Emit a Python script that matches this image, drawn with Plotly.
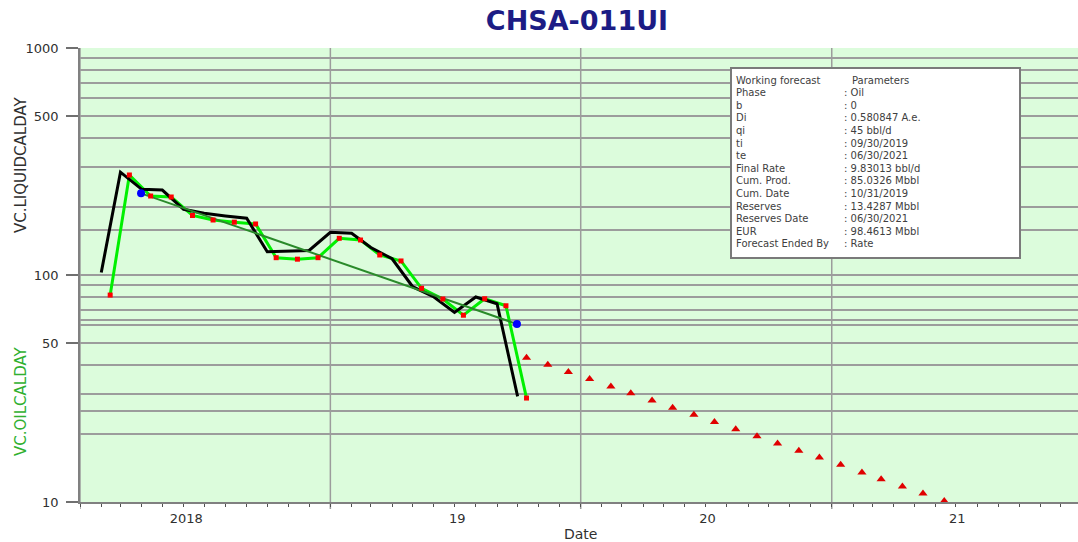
import plotly.graph_objects as go

# ---------------- data ----------------
hist_months = ['2018-02', '2018-03', '2018-04', '2018-05', '2018-06', '2018-07', '2018-08',
               '2018-09', '2018-10', '2018-11', '2018-12', '2019-01', '2019-02', '2019-03',
               '2019-04', '2019-05', '2019-06', '2019-07', '2019-08', '2019-09', '2019-10']
liquid_rate = [102.6, 283.8, 238.5, 236.8, 194.7, 187.0, 182.0, 177.8, 126.6, 127.5, 128.2,
               154.2, 152.7, 132.2, 117.9, 88.8, 80.0, 68.4, 80.0, 74.7, 29.2]
oil_rate = [81.6, 275.8, 222.8, 220.6, 182.9, 174.7, 170.9, 167.8, 119.2, 117.4, 119.2,
            145.1, 142.6, 122.5, 115.3, 87.4, 78.4, 66.5, 78.6, 73.2, 28.7]

fit_dates = ['2018-03-31', '2019-09-30']
fit_rates = [229.0, 60.8]

fc_months = ['2019-10', '2019-11', '2019-12', '2020-01', '2020-02', '2020-03', '2020-04',
             '2020-05', '2020-06', '2020-07', '2020-08', '2020-09', '2020-10', '2020-11',
             '2020-12', '2021-01', '2021-02', '2021-03', '2021-04', '2021-05', '2021-06']
fc_rate = [43.2, 40.2, 37.4, 34.8, 32.3, 30.1, 28.0, 26.0, 24.2, 22.5, 20.9, 19.5, 18.1,
           16.8, 15.7, 14.6, 13.5, 12.6, 11.7, 10.9, 10.1]

year_starts = ['2018-01-01', '2019-01-01', '2020-01-01', '2021-01-01']
xtick_vals = ['2018-06-05', '2019-07-05', '2020-07-04', '2021-07-03']
xtick_text = ['2018', '19', '20', '21']
ytick_vals = [10, 50, 100, 500, 1000]
ytick_text = ['10', '50', '100', '500', '1000']
ygrid_vals = [20, 25.1, 30, 40, 60, 63.1, 70, 80, 90, 158.5, 200, 300, 400, 600, 700, 800, 900]

legend_keys = ['Working forecast', 'Phase', 'b', 'Di', 'qi', 'ti', 'te', 'Final Rate',
               'Cum. Prod.', 'Cum. Date', 'Reserves', 'Reserves Date', 'EUR',
               'Forecast Ended By']
legend_vals = ['Parameters', ': Oil', ': 0', ': 0.580847 A.e.', ': 45 bbl/d', ': 09/30/2019',
               ': 06/30/2021', ': 9.83013 bbl/d', ': 85.0326 Mbbl', ': 10/31/2019',
               ': 13.4287 Mbbl', ': 06/30/2021', ': 98.4613 Mbbl', ': Rate']

liquid_dates = [m + '-01' for m in hist_months]
oil_dates = [m + '-14' for m in hist_months]
fc_dates = [m + '-14' for m in fc_months]

# ---------------- layout geometry ----------------
W, H = 1078, 542
PLOT_L, PLOT_R, PLOT_T, PLOT_B = 80, 1078, 48, 502   # page pixels
ML, MR, MT, MB = PLOT_L, W - PLOT_R, PLOT_T, H - PLOT_B
PW, PH = PLOT_R - PLOT_L, PLOT_B - PLOT_T
FONT = 'DejaVu Sans'
GRID = '#9c9c9c'


def px2paper_x(px):
    return (px - PLOT_L) / PW


def px2paper_y(py):
    return (PLOT_B - py) / PH


fig = go.Figure()

fig.add_trace(go.Scatter(x=oil_dates, y=oil_rate, mode='lines',
                         line=dict(color='#00f000', width=3), showlegend=False))
fig.add_trace(go.Scatter(x=liquid_dates, y=liquid_rate, mode='lines',
                         line=dict(color='#000000', width=3), showlegend=False))
fig.add_trace(go.Scatter(x=fit_dates, y=fit_rates, mode='lines',
                         line=dict(color='#2a8a2a', width=2), showlegend=False))
fig.add_trace(go.Scatter(x=oil_dates, y=oil_rate, mode='markers',
                         marker=dict(color='#ff0000', symbol='square', size=5), showlegend=False))
fig.add_trace(go.Scatter(x=fit_dates, y=fit_rates, mode='markers',
                         marker=dict(color='#0000ff', symbol='circle', size=8), showlegend=False))
fig.add_trace(go.Scatter(x=fc_dates, y=fc_rate, mode='markers',
                         marker=dict(color='#e00000', symbol='triangle-up', size=8), showlegend=False))

shapes = []
for d in year_starts:
    shapes.append(dict(type='line', xref='x', yref='paper', x0=d, x1=d,
                       y0=-7 / PH, y1=1, line=dict(color=GRID, width=1.5), layer='below'))

# parameter box
shapes.append(dict(type='rect', xref='paper', yref='paper',
                   x0=px2paper_x(731), x1=px2paper_x(1020),
                   y0=px2paper_y(258), y1=px2paper_y(68),
                   fillcolor='white', line=dict(color='#7a7a7a', width=2), layer='above'))

annotations = []
for i, (k, v) in enumerate(zip(legend_keys, legend_vals)):
    yc = px2paper_y(80 + 12.6 * i)
    annotations.append(dict(xref='paper', yref='paper', x=px2paper_x(734), y=yc,
                            xanchor='left', yanchor='middle', text=k, showarrow=False,
                            font=dict(family=FONT, size=10, color='#404040')))
    vx = 850 if i == 0 else 842
    annotations.append(dict(xref='paper', yref='paper', x=px2paper_x(vx), y=yc,
                            xanchor='left', yanchor='middle', text=v, showarrow=False,
                            font=dict(family=FONT, size=10, color='#404040')))

# axis titles
annotations.append(dict(xref='paper', yref='paper', x=px2paper_x(21), y=px2paper_y(165),
                        xanchor='center', yanchor='middle', text='VC.LIQUIDCALDAY',
                        textangle=-90, showarrow=False,
                        font=dict(family=FONT, size=15, color='#303030')))
annotations.append(dict(xref='paper', yref='paper', x=px2paper_x(21), y=px2paper_y(401),
                        xanchor='center', yanchor='middle', text='VC.OILCALDAY',
                        textangle=-90, showarrow=False,
                        font=dict(family=FONT, size=15, color='#30b030')))
annotations.append(dict(xref='paper', yref='paper', x=px2paper_x(580), y=px2paper_y(534),
                        xanchor='center', yanchor='middle', text='Date', showarrow=False,
                        font=dict(family=FONT, size=14, color='#303030')))

fig.update_layout(
    width=W, height=H,
    margin=dict(l=ML, r=MR, t=MT, b=MB, pad=0),
    paper_bgcolor='white',
    plot_bgcolor='#dcfcdc',
    showlegend=False,
    title=dict(text='<b>CHSA-011UI</b>', x=577 / W, xanchor='center',
               y=1 - 21 / H, yanchor='middle',
               font=dict(family=FONT, size=27, color='#1c1c85')),
    shapes=shapes,
    annotations=annotations,
    xaxis=dict(
        type='date', range=['2018-01-01', '2021-12-26'],
        tickmode='array', tickvals=xtick_vals, ticktext=xtick_text,
        ticks='outside', ticklen=4, tickcolor='rgba(0,0,0,0)',
        tickfont=dict(family=FONT, size=13, color='#303030'),
        showgrid=False, zeroline=False,
        showline=True, linecolor='#808080', linewidth=1.5,
        minor=dict(tickmode='linear', tick0='2018-01-01', dtick='M1', ticks='outside',
                   ticklen=3, tickcolor='#505050', showgrid=False),
    ),
    yaxis=dict(
        type='log', range=[1, 3],
        tickmode='array', tickvals=ytick_vals, ticktext=ytick_text,
        ticks='outside', ticklen=12, tickcolor='#707070', tickwidth=1.5,
        ticklabelstandoff=5,
        tickfont=dict(family=FONT, size=13, color='#303030'),
        showgrid=True, gridcolor=GRID, gridwidth=1.5, zeroline=False,
        showline=True, linecolor='#808080', linewidth=1.5,
        minor=dict(tickmode='array', tickvals=ygrid_vals, ticks='',
                   showgrid=True, gridcolor=GRID, gridwidth=1.5),
    ),
)

fig.write_html('out.html',
               config={'displayModeBar': False},
               post_script="document.body.style.margin='0px';"
                           "document.body.style.overflow='hidden';")
